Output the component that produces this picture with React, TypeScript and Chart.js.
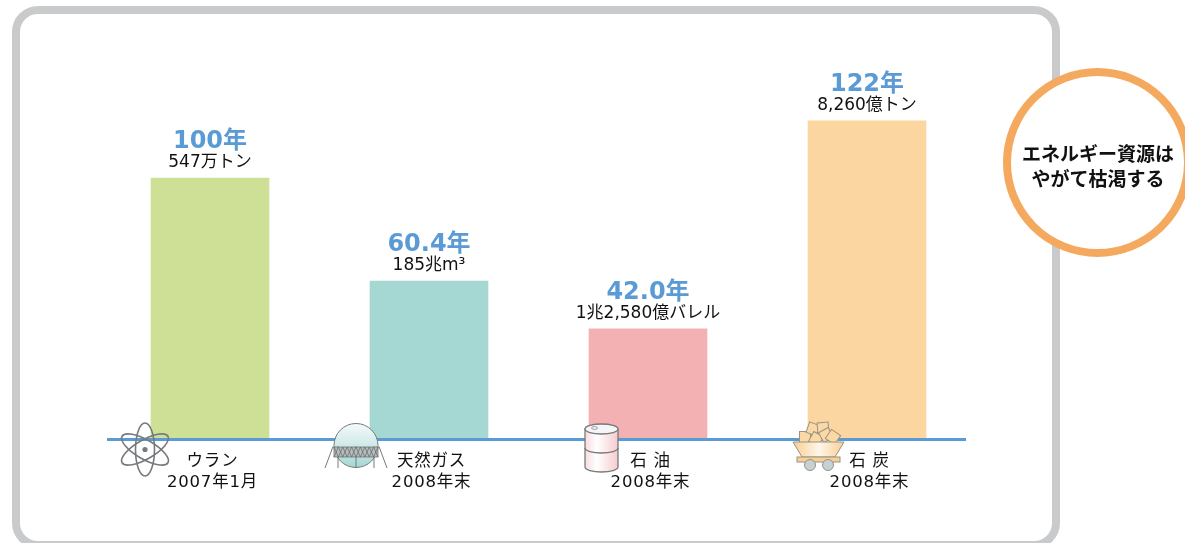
import React, { useEffect, useRef } from "react";
import { Chart, registerables } from "chart.js";

Chart.register(...registerables);

const categories: string[][] = [
  ["ウラン", "2007年1月"],
  ["天然ガス", "2008年末"],
  ["石 油", "2008年末"],
  ["石 炭", "2008年末"],
];
const years = [100, 60.4, 42.0, 122];
const yearLabels = ["100年", "60.4年", "42.0年", "122年"];
const reserveLabels = ["547万トン", "185兆m³", "1兆2,580億バレル", "8,260億トン"];
const barColors = ["#cde096", "#a5d8d3", "#f4b1b3", "#fbd6a0"];
const calloutLines = ["エネルギー資源は", "やがて枯渇する"];

const LATIN_CJK = '"DejaVu Sans", "Noto Sans CJK JP", sans-serif';
const BLUE = "#5b9bd5";
const GREY = "#777a7c";

function frame(ctx: CanvasRenderingContext2D) {
  ctx.save();
  ctx.fillStyle = "#ffffff";
  ctx.fillRect(0, 0, 1185, 543);
  ctx.strokeStyle = "#c9cacb";
  ctx.lineWidth = 8;
  ctx.beginPath();
  ctx.roundRect(16, 10, 1040, 535, 22);
  ctx.stroke();
  ctx.restore();
}

function atom(ctx: CanvasRenderingContext2D, cx: number, cy: number) {
  ctx.save();
  ctx.strokeStyle = GREY;
  ctx.lineWidth = 1.6;
  for (const rot of [Math.PI / 2, Math.PI / 6, -Math.PI / 6]) {
    ctx.beginPath();
    ctx.ellipse(cx, cy, 26.5, 9.5, rot, 0, Math.PI * 2);
    ctx.stroke();
  }
  ctx.fillStyle = GREY;
  ctx.beginPath();
  ctx.arc(cx, cy, 2.6, 0, Math.PI * 2);
  ctx.fill();
  ctx.restore();
}

function gasTank(ctx: CanvasRenderingContext2D, cx: number, cy: number) {
  ctx.save();
  ctx.strokeStyle = GREY;
  ctx.lineWidth = 1;
  const g = ctx.createLinearGradient(cx, cy - 22, cx, cy + 22);
  g.addColorStop(0, "#f4fafa");
  g.addColorStop(0.5, "#cfe9e7");
  g.addColorStop(1, "#a5d8d3");
  ctx.fillStyle = g;
  ctx.beginPath();
  ctx.arc(cx, cy, 22, 0, Math.PI * 2);
  ctx.fill();
  ctx.stroke();
  for (const [a, b] of [[-23, -31], [23, 31], [-18, -18], [0, 0], [18, 18]]) {
    ctx.beginPath();
    ctx.moveTo(cx + a, cy + 1);
    ctx.lineTo(cx + b, cy + 22.5);
    ctx.stroke();
  }
  ctx.fillStyle = "#b7bdbd";
  ctx.fillRect(cx - 22, cy + 1.5, 44, 10);
  ctx.strokeStyle = "#5f6566";
  ctx.lineWidth = 0.7;
  ctx.strokeRect(cx - 22, cy + 1.5, 44, 10);
  for (let x = -22; x < 22; x += 4.4) {
    ctx.beginPath();
    ctx.moveTo(cx + x, cy + 1.5);
    ctx.lineTo(cx + x + 4.4, cy + 11.5);
    ctx.moveTo(cx + x + 4.4, cy + 1.5);
    ctx.lineTo(cx + x, cy + 11.5);
    ctx.stroke();
  }
  ctx.restore();
}

function drum(ctx: CanvasRenderingContext2D, cx: number, top: number) {
  ctx.save();
  const w = 16.5;
  const h = 38;
  const g = ctx.createLinearGradient(cx - w, 0, cx + w, 0);
  g.addColorStop(0, "#f9dcdc");
  g.addColorStop(0.35, "#ffffff");
  g.addColorStop(1, "#f7cbcc");
  ctx.strokeStyle = GREY;
  ctx.lineWidth = 1.3;
  ctx.fillStyle = g;
  ctx.beginPath();
  ctx.moveTo(cx - w, top + 5);
  ctx.lineTo(cx - w, top + 5 + h);
  ctx.ellipse(cx, top + 5 + h, w, 5, 0, Math.PI, 0, true);
  ctx.lineTo(cx + w, top + 5);
  ctx.closePath();
  ctx.fill();
  ctx.stroke();
  ctx.beginPath();
  ctx.ellipse(cx, top + 5 + h / 2, w, 5, 0, Math.PI, 0, true);
  ctx.stroke();
  ctx.fillStyle = "#f6f6f6";
  ctx.beginPath();
  ctx.ellipse(cx, top + 5, w, 5, 0, 0, Math.PI * 2);
  ctx.fill();
  ctx.stroke();
  ctx.lineWidth = 0.7;
  ctx.beginPath();
  ctx.ellipse(cx - 7, top + 4, 3, 1.4, 0, 0, Math.PI * 2);
  ctx.stroke();
  ctx.restore();
}

function coalCart(ctx: CanvasRenderingContext2D, cx: number, top: number) {
  ctx.save();
  const blocks: number[][] = [
    [-14, 14, 0], [-6, 6, 0.35], [4, 5, -0.08], [-3, 16, 0.5], [7, 12, -0.5], [14, 14, 0.6],
  ];
  ctx.strokeStyle = "#9a9384";
  ctx.lineWidth = 1;
  ctx.fillStyle = "#fad9a4";
  for (const [dx, dy, r] of blocks) {
    ctx.save();
    ctx.translate(cx + dx, top + dy);
    ctx.rotate(r);
    ctx.fillRect(-5.5, -5.5, 11, 11);
    ctx.strokeRect(-5.5, -5.5, 11, 11);
    ctx.restore();
  }
  const g = ctx.createLinearGradient(cx - 25, 0, cx + 25, 0);
  g.addColorStop(0, "#f8cf95");
  g.addColorStop(0.5, "#fff6e8");
  g.addColorStop(1, "#f8cf95");
  ctx.fillStyle = g;
  ctx.beginPath();
  ctx.moveTo(cx - 26, top + 19);
  ctx.lineTo(cx + 25, top + 19);
  ctx.lineTo(cx + 16, top + 34);
  ctx.lineTo(cx - 17, top + 34);
  ctx.closePath();
  ctx.fill();
  ctx.stroke();
  ctx.fillStyle = "#f8cf95";
  ctx.fillRect(cx - 22, top + 34, 43, 5);
  ctx.strokeRect(cx - 22, top + 34, 43, 5);
  ctx.fillStyle = "#c6d0d5";
  for (const dx of [-9, 9]) {
    ctx.beginPath();
    ctx.arc(cx + dx, top + 42, 5.5, 0, Math.PI * 2);
    ctx.fill();
    ctx.stroke();
  }
  ctx.restore();
}

const decorationsPlugin = {
  id: "decorations",
  beforeDraw(chart: Chart) {
    frame(chart.ctx);
    (chart.ctx as any).letterSpacing = "0.8px";
  },
  beforeDatasetsDraw(chart: Chart) {
    (chart.ctx as any).letterSpacing = "0px";
  },
  afterDatasetsDraw(chart: Chart) {
    const ctx = chart.ctx;
    const bars = chart.getDatasetMeta(0).data;
    ctx.save();
    ctx.textAlign = "center";
    ctx.textBaseline = "alphabetic";
    bars.forEach((bar: any, i: number) => {
      ctx.fillStyle = BLUE;
      ctx.font = `bold 24px ${LATIN_CJK}`;
      ctx.fillText(yearLabels[i], bar.x, bar.y - 30);
      ctx.fillStyle = "#111111";
      ctx.font = `17px ${LATIN_CJK}`;
      ctx.fillText(reserveLabels[i], bar.x, bar.y - 11);
    });
    ctx.restore();

    const base = chart.scales.y.getPixelForValue(0);
    ctx.save();
    ctx.fillStyle = BLUE;
    ctx.fillRect(107, base, 859, 3);
    ctx.restore();

    atom(ctx, 145, 449.5);
    gasTank(ctx, 356, 445.5);
    drum(ctx, 601.5, 424);
    coalCart(ctx, 819, 423);
  },
  afterDraw(chart: Chart) {
    const ctx = chart.ctx;
    ctx.save();
    ctx.beginPath();
    ctx.arc(1097.5, 162.5, 90.5, 0, Math.PI * 2);
    ctx.fillStyle = "#ffffff";
    ctx.fill();
    ctx.strokeStyle = "#f4a95e";
    ctx.lineWidth = 8;
    ctx.stroke();
    ctx.fillStyle = "#111111";
    ctx.font = 'bold 19px "Noto Sans CJK JP", sans-serif';
    ctx.textAlign = "center";
    ctx.textBaseline = "middle";
    calloutLines.forEach((line, i) => ctx.fillText(line, 1098, 154 + i * 25));
    ctx.restore();
  },
};

export default function App() {
  const ref = useRef<HTMLCanvasElement>(null);
  useEffect(() => {
    const chart = new Chart(ref.current!, {
      type: "bar",
      data: {
        labels: categories,
        datasets: [
          {
            data: years,
            backgroundColor: barColors,
            barThickness: 118,
            borderWidth: 0,
          },
        ],
      },
      options: {
        animation: false,
        responsive: false,
        devicePixelRatio: 1,
        layout: { padding: { left: 100.5, right: 208.5, top: 0, bottom: 0 } },
        plugins: { legend: { display: false }, tooltip: { enabled: false } },
        scales: {
          x: {
            grid: { display: false },
            border: { display: false },
            ticks: {
              color: "#111111",
              font: { family: LATIN_CJK, size: 16.5, lineHeight: 1.3 },
              padding: 5,
              labelOffset: 2.5,
              maxRotation: 0,
              autoSkip: false,
            },
            afterFit(scale: any) {
              scale.height = 105;
            },
          },
          y: { display: false, min: 0, max: 168.5 },
        },
      },
      plugins: [decorationsPlugin],
    } as any);
    return () => chart.destroy();
  }, []);
  return (
    <canvas
      ref={ref}
      width={1185}
      height={543}
      style={{ position: "fixed", left: 0, top: 0, width: 1185, height: 543, display: "block" }}
    />
  );
}
